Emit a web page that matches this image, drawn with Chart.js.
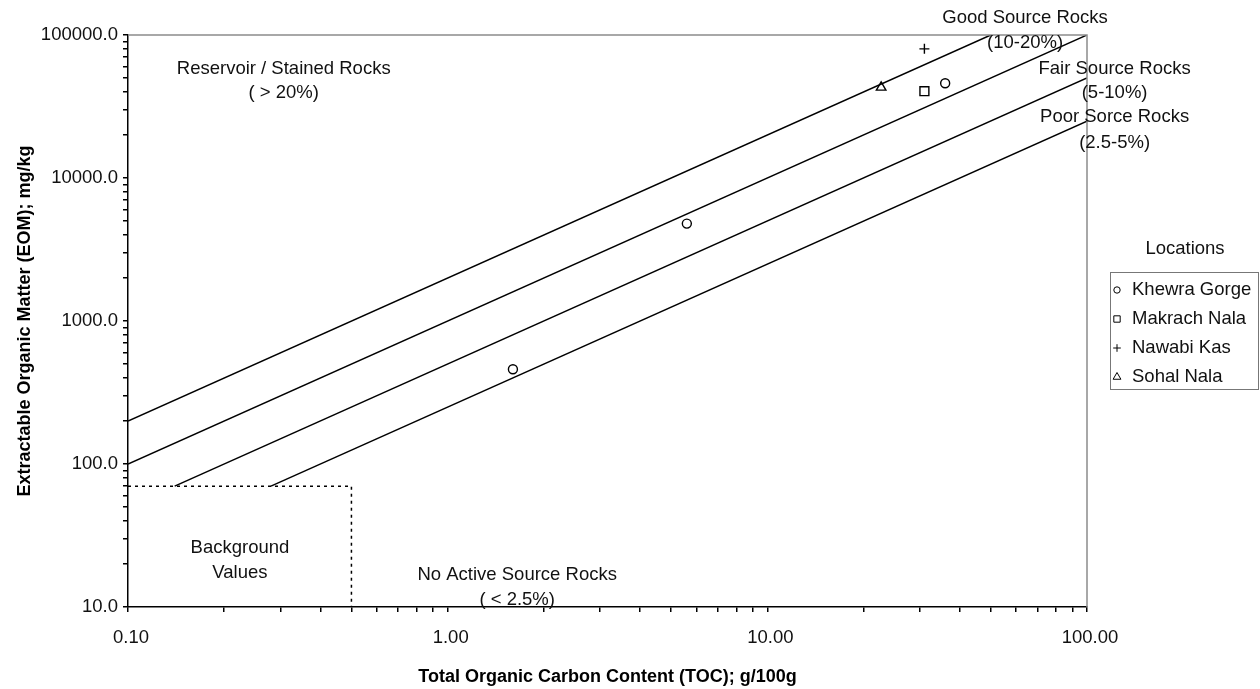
<!DOCTYPE html>
<html>
<head>
<meta charset="utf-8">
<script src="https://cdn.jsdelivr.net/npm/chart.js@4.4.0/dist/chart.umd.min.js"></script>
<style>
  html, body { margin: 0; padding: 0; background: #fff; }
  #wrap { width: 1260px; height: 689px; }
</style>
</head>
<body>
<div id="wrap"><canvas id="eomChart" width="1260" height="689"></canvas></div>
<script>
// samples: TOC (g/100g) against EOM (mg/kg)
const khewraToc = [1.6, 5.6, 36];
const khewraEom = [460, 4800, 46000];
const makrachToc = [31];
const makrachEom = [40500];
const nawabiToc = [31];
const nawabiEom = [80000];
const sohalToc = [22.7];
const sohalEom = [43000];

// source rock class boundaries (EOM as share of TOC)
const line20Toc = [0.1, 50];   const line20Eom = [200, 100000];
const line10Toc = [0.1, 100];  const line10Eom = [100, 100000];
const line5Toc = [0.14, 100];  const line5Eom = [70, 50000];
const line25Toc = [0.28, 100]; const line25Eom = [70, 25000];
// background values box
const bgToc = [0.1, 0.5, 0.5];
const bgEom = [70, 70, 10];

const xMajor = [0.1, 1, 10, 100];
const yMajor = [10, 100, 1000, 10000, 100000];

const zoneLabels = [
  { text: 'Reservoir / Stained Rocks', toc: 0.307, eom: 57800 },
  { text: '( > 20%)', toc: 0.307, eom: 39300 },
  { text: 'Good Source Rocks', toc: 64, eom: 131500 },
  { text: '(10-20%)', toc: 64, eom: 87900 },
  { text: 'Fair Source Rocks', toc: 122, eom: 57800 },
  { text: '(5-10%)', toc: 122, eom: 39300 },
  { text: 'Poor Sorce Rocks', toc: 122, eom: 26700 },
  { text: '(2.5-5%)', toc: 122, eom: 17570 },
  { text: 'Background', toc: 0.224, eom: 25.9 },
  { text: 'Values', toc: 0.224, eom: 17.3 },
  { text: 'No Active Source Rocks', toc: 1.65, eom: 16.7 },
  { text: '( < 2.5%)', toc: 1.65, eom: 11.2 }
];

const FONT = "'Liberation Sans', Arial, sans-serif";

function pairs(xs, ys) {
  return xs.map((x, i) => ({ x: x, y: ys[i] }));
}

function boundary(xs, ys, dash) {
  return {
    type: 'line',
    data: pairs(xs, ys),
    borderColor: '#000',
    borderWidth: 1.5,
    borderDash: dash || [],
    pointRadius: 0,
    fill: false,
    isBoundary: true
  };
}

function samples(label, xs, ys, style, radius) {
  return {
    type: 'scatter',
    label: label,
    data: pairs(xs, ys),
    pointStyle: style,
    pointRadius: radius,
    pointBorderWidth: 1.4,
    pointBorderColor: '#000',
    pointBackgroundColor: 'rgba(0,0,0,0)',
    borderColor: '#000',
    backgroundColor: 'rgba(0,0,0,0)'
  };
}

// all 1..9 x 10^n ticks between min and max
function logTicks(min, max) {
  const out = [];
  for (let e = Math.round(Math.log10(min)); e < Math.round(Math.log10(max)); e++) {
    for (let m = 1; m < 10; m++) out.push({ value: m * Math.pow(10, e) });
  }
  out.push({ value: max });
  return out;
}

function isMajor(v, list) {
  return list.some(t => Math.abs(t - v) / t < 1e-9);
}

const overlay = {
  id: 'overlay',
  afterDraw(chart) {
    const ctx = chart.ctx;
    const area = chart.chartArea;
    const xs = chart.scales.x;
    const ys = chart.scales.y;

    // grey frame on top and right of the plot
    ctx.save();
    ctx.strokeStyle = '#8c8c8c';
    ctx.lineWidth = 1.5;
    ctx.beginPath();
    ctx.moveTo(area.left, area.top);
    ctx.lineTo(area.right, area.top);
    ctx.lineTo(area.right, area.bottom);
    ctx.stroke();

    // zone labels
    ctx.fillStyle = '#111';
    ctx.font = '18.5px ' + FONT;
    ctx.textAlign = 'center';
    ctx.textBaseline = 'middle';
    zoneLabels.forEach(l => {
      ctx.fillText(l.text, xs.getPixelForValue(l.toc), ys.getPixelForValue(l.eom));
    });

    // legend
    const boxL = 1110, boxT = 272, boxW = 148, boxH = 117;
    ctx.fillText('Locations', boxL + boxW / 2 + 1, 249);
    ctx.strokeStyle = '#777';
    ctx.lineWidth = 1;
    ctx.strokeRect(boxL + 0.5, boxT + 0.5, boxW, boxH);
    ctx.textAlign = 'left';
    const items = chart.data.datasets.filter(d => !d.isBoundary);
    items.forEach((d, i) => {
      const y = boxT + 18 + i * 29;
      ctx.strokeStyle = '#000';
      ctx.fillStyle = 'rgba(0,0,0,0)';
      Chart.helpers.drawPoint(ctx, {
        pointStyle: d.pointStyle,
        radius: d.pointStyle === 'cross' ? 3.8 : (d.pointStyle === 'circle' ? 3.2 : 4.5),
        rotation: 0,
        borderWidth: 1.2
      }, boxL + 7, y);
      ctx.fillStyle = '#111';
      ctx.fillText(d.label, boxL + 22, y);
    });
    ctx.restore();
  }
};

new Chart(document.getElementById('eomChart'), {
  type: 'scatter',
  data: {
    datasets: [
      samples('Khewra Gorge', khewraToc, khewraEom, 'circle', 4.5),
      samples('Makrach Nala', makrachToc, makrachEom, 'rect', 6.3),
      samples('Nawabi Kas', nawabiToc, nawabiEom, 'cross', 5),
      samples('Sohal Nala', sohalToc, sohalEom, 'triangle', 5.5),
      boundary(line20Toc, line20Eom),
      boundary(line10Toc, line10Eom),
      boundary(line5Toc, line5Eom),
      boundary(line25Toc, line25Eom),
      boundary(bgToc, bgEom, [3, 4])
    ]
  },
  options: {
    responsive: false,
    animation: false,
    layout: { padding: { top: 35, right: 173, bottom: 0, left: 0 } },
    plugins: {
      legend: { display: false },
      tooltip: { enabled: false }
    },
    scales: {
      x: {
        type: 'logarithmic',
        min: 0.1,
        max: 100,
        afterBuildTicks: scale => { scale.ticks = logTicks(0.1, 100); },
        afterFit: scale => { scale.height = 82; },
        border: { display: true, color: '#000', width: 1.5 },
        grid: { display: true, drawOnChartArea: false, drawTicks: true, tickLength: 5, color: '#000', lineWidth: 1.5 },
        ticks: {
          autoSkip: false,
          maxRotation: 0,
          padding: 15,
          labelOffset: 3,
          color: '#111',
          font: { family: FONT, size: 18.5 },
          callback: v => isMajor(v, xMajor) ? v.toFixed(2) : ''
        },
        title: {
          display: true,
          text: 'Total Organic Carbon Content (TOC); g/100g',
          color: '#000',
          font: { family: FONT, size: 18, weight: 'bold' },
          padding: { top: 4, bottom: 1 }
        }
      },
      y: {
        type: 'logarithmic',
        min: 10,
        max: 100000,
        afterBuildTicks: scale => { scale.ticks = logTicks(10, 100000); },
        afterFit: scale => { scale.width = 128; },
        border: { display: true, color: '#000', width: 1.5 },
        grid: { display: true, drawOnChartArea: false, drawTicks: true, tickLength: 5, color: '#000', lineWidth: 1.5 },
        ticks: {
          autoSkip: false,
          padding: 5,
          color: '#111',
          font: { family: FONT, size: 18.5 },
          callback: v => isMajor(v, yMajor) ? v.toFixed(1) : ''
        },
        title: {
          display: true,
          text: 'Extractable Organic Matter (EOM); mg/kg',
          color: '#000',
          font: { family: FONT, size: 18, weight: 'bold' },
          padding: { top: 14, bottom: 4 }
        }
      }
    }
  },
  plugins: [overlay]
});
</script>
</body>
</html>
